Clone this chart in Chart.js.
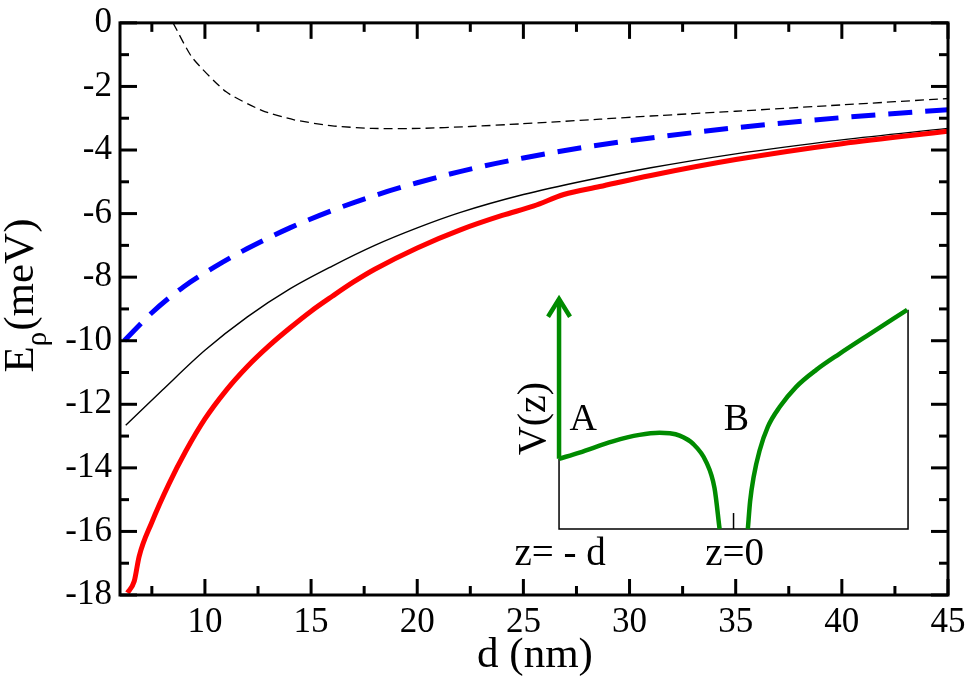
<!DOCTYPE html>
<html>
<head>
<meta charset="utf-8">
<script src="https://cdn.jsdelivr.net/npm/chart.js@4.4.1/dist/chart.umd.min.js"></script>
<style>
html,body{margin:0;padding:0;background:#fff;}
#wrap{position:relative;width:970px;height:677px;}
</style>
</head>
<body>
<div id="wrap"><canvas id="c" width="970" height="677"></canvas></div>
<script>
// ---- tick values ----
const xTicksMajor = [10, 15, 20, 25, 30, 35, 40, 45];
const xTicksMinor = [7.5, 12.5, 17.5, 22.5, 27.5, 32.5, 37.5, 42.5];
const yTicksMajor = [-18, -16, -14, -12, -10, -8, -6, -4, -2, 0];
const yTicksMinor = [-17, -15, -13, -11, -9, -7, -5, -3, -1];

// ---- main series (d in nm, E in meV) ----
const dRed = [6.35, 6.67, 6.9, 7.5, 8.3, 9.1, 10, 11, 12, 13, 14, 15, 16, 17, 18, 20, 22, 24, 25.5, 26.9, 28.6, 31, 35, 40, 45];
const eRed = [-17.93, -17.57, -16.79, -15.71, -14.51, -13.47, -12.46, -11.56, -10.81, -10.17, -9.6, -9.07, -8.6, -8.15, -7.75, -7.08, -6.52, -6.06, -5.76, -5.4, -5.15, -4.8, -4.3, -3.8, -3.41];

const dBlack = [6.27, 8, 10, 12, 14, 16, 18, 20, 22, 25, 28, 31, 35, 40, 45];
const eBlack = [-12.66, -11.55, -10.3, -9.25, -8.37, -7.65, -7.0, -6.45, -5.97, -5.4, -4.95, -4.56, -4.12, -3.68, -3.32];

const dBlue = [6.2, 7.5, 9, 10.5, 12, 14, 16, 18, 20, 22.5, 25, 28, 31, 35, 40, 45];
const eBlue = [-10.0, -9.12, -8.3, -7.66, -7.1, -6.45, -5.9, -5.43, -5.03, -4.6, -4.25, -3.9, -3.62, -3.3, -2.98, -2.73];

const dDash = [8.5, 9.4, 11.0, 12.7, 14.2, 16.0, 17.9, 20.1, 22.5, 24.8, 28.6, 31, 35, 40, 45];
const eDash = [0, -1.09, -2.17, -2.76, -3.05, -3.24, -3.32, -3.32, -3.26, -3.18, -3.03, -2.93, -2.78, -2.58, -2.38];

// ---- inset: potential V(z), z in units of d (z=-d -> -1) ----
const zLeftWall = [-1, -1];
const vLeftWall = [10, 3.05];
const zArrow = [-1.063, -1, -0.937];
const vArrow = [9.23, 10, 9.23];
const zWellA = [-1, -0.883, -0.692, -0.539, -0.424, -0.367, -0.309, -0.233, -0.157, -0.109, -0.08];
const vWellA = [3.05, 3.32, 3.81, 4.09, 4.18, 4.16, 4.06, 3.71, 2.92, 1.77, 0];
const zWellB = [0.082, 0.095, 0.115, 0.149, 0.197, 0.264, 0.359, 0.474, 0.607, 0.76, 0.995];
const vWellB = [0, 1.2, 2.25, 3.4, 4.45, 5.3, 6.18, 6.92, 7.62, 8.38, 9.53];
const zInsetFrame = [-1, -1, 1, 1];
const vInsetFrame = [3.05, 0, 0, 9.53];
const zInsetTick = [0, 0];
const vInsetTick = [0, 0.69];

const pts = (xs, ys) => xs.map((v, i) => ({x: v, y: ys[i]}));

const FONT = "'Liberation Serif', 'Times New Roman', serif";
Chart.defaults.font.family = FONT;
Chart.defaults.color = '#000';

// inset text labels (positions in inset coordinates)
const insetLabels = [
  {text: 'A', z: -0.862, v: 4.29, size: 38, rot: false},
  {text: 'B', z: 0.017, v: 4.29, size: 38, rot: false},
  {text: 'z= - d', z: -0.994, v: -1.59, size: 39, rot: false},
  {text: 'z=0', z: 0.006, v: -1.59, size: 39, rot: false},
  {text: 'V(z)', z: -1.08, v: 4.8, size: 40, rot: true}
];

const decor = {
  id: 'decor',
  afterDatasetsDraw(chart) {
    const {ctx, chartArea: a, scales} = chart;
    const x = scales.x, y = scales.y, x2 = scales.x2, y2 = scales.y2;
    ctx.save();
    ctx.strokeStyle = '#000';
    ctx.lineWidth = 3;
    ctx.lineCap = 'butt';
    const seg = (x1, y1, xb, yb) => { ctx.beginPath(); ctx.moveTo(x1, y1); ctx.lineTo(xb, yb); ctx.stroke(); };
    xTicksMajor.forEach(v => { const p = x.getPixelForValue(v); seg(p, a.bottom, p, a.bottom - 16); seg(p, a.top, p, a.top + 16); });
    xTicksMinor.forEach(v => { const p = x.getPixelForValue(v); seg(p, a.bottom, p, a.bottom - 9); seg(p, a.top, p, a.top + 9); });
    yTicksMajor.forEach(v => { const p = y.getPixelForValue(v); seg(a.left, p, a.left + 17, p); seg(a.right, p, a.right - 17, p); });
    yTicksMinor.forEach(v => { const p = y.getPixelForValue(v); seg(a.left, p, a.left + 9, p); seg(a.right, p, a.right - 9, p); });
    ctx.lineWidth = 3;
    ctx.strokeRect(a.left, a.top, a.right - a.left, a.bottom - a.top);

    // inset labels
    ctx.fillStyle = '#000';
    insetLabels.forEach(l => {
      const px = x2.getPixelForValue(l.z), py = y2.getPixelForValue(l.v);
      ctx.font = l.size + 'px ' + FONT;
      ctx.textAlign = 'center';
      ctx.textBaseline = 'alphabetic';
      if (l.rot) {
        ctx.save();
        ctx.translate(px, py);
        ctx.rotate(-Math.PI / 2);
        ctx.fillText(l.text, 0, 0);
        ctx.restore();
      } else {
        ctx.fillText(l.text, px, py);
      }
    });

    // x axis title
    ctx.font = '43px ' + FONT;
    ctx.textAlign = 'center';
    ctx.textBaseline = 'alphabetic';
    ctx.fillText('d (nm)', (a.left + a.right) / 2 + 1, 667);

    // y axis title with subscript
    ctx.save();
    ctx.translate(33, 296);
    ctx.rotate(-Math.PI / 2);
    ctx.textAlign = 'left';
    const mainF = '43px ' + FONT, subF = '29px ' + FONT;
    ctx.font = mainF; const wE = ctx.measureText('E').width; const wM = ctx.measureText('(meV)').width;
    ctx.font = subF; const wR = ctx.measureText('ρ').width;
    const sx = -(wE + wR + wM) / 2;
    ctx.font = mainF; ctx.fillText('E', sx, 0);
    ctx.font = subF; ctx.fillText('ρ', sx + wE, 13);
    ctx.font = mainF; ctx.fillText('(meV)', sx + wE + wR + 1, 0);
    ctx.restore();

    ctx.restore();
  }
};

const GREEN = '#008b00';
const base = {pointRadius: 0, pointHoverRadius: 0, fill: false};

new Chart(document.getElementById('c'), {
  type: 'line',
  data: {
    datasets: [
      Object.assign({}, base, {data: pts(dRed, eRed), borderColor: '#ff0000', borderWidth: 5, cubicInterpolationMode: 'monotone', xAxisID: 'x', yAxisID: 'y', order: 1}),
      Object.assign({}, base, {data: pts(dBlack, eBlack), borderColor: '#000', borderWidth: 1.4, cubicInterpolationMode: 'monotone', xAxisID: 'x', yAxisID: 'y', order: 2}),
      Object.assign({}, base, {data: pts(dBlue, eBlue), borderColor: '#0000ff', borderWidth: 5, borderDash: [24, 13], cubicInterpolationMode: 'monotone', xAxisID: 'x', yAxisID: 'y', order: 3}),
      Object.assign({}, base, {data: pts(dDash, eDash), borderColor: '#000', borderWidth: 1.3, borderDash: [9, 5], tension: 0.2, xAxisID: 'x', yAxisID: 'y', order: 4}),
      Object.assign({}, base, {data: pts(zInsetFrame, vInsetFrame), borderColor: '#000', borderWidth: 1.5, tension: 0, xAxisID: 'x2', yAxisID: 'y2', order: 6}),
      Object.assign({}, base, {data: pts(zInsetTick, vInsetTick), borderColor: '#000', borderWidth: 1.5, tension: 0, xAxisID: 'x2', yAxisID: 'y2', order: 6}),
      Object.assign({}, base, {data: pts(zLeftWall, vLeftWall), borderColor: GREEN, borderWidth: 4.5, tension: 0, xAxisID: 'x2', yAxisID: 'y2', order: 5}),
      Object.assign({}, base, {data: pts(zArrow, vArrow), borderColor: GREEN, borderWidth: 4.5, tension: 0, xAxisID: 'x2', yAxisID: 'y2', order: 5}),
      Object.assign({}, base, {data: pts(zWellA, vWellA), borderColor: GREEN, borderWidth: 4.5, cubicInterpolationMode: 'monotone', xAxisID: 'x2', yAxisID: 'y2', order: 5}),
      Object.assign({}, base, {data: pts(zWellB, vWellB), borderColor: GREEN, borderWidth: 4.5, cubicInterpolationMode: 'monotone', xAxisID: 'x2', yAxisID: 'y2', order: 5})
    ]
  },
  options: {
    responsive: false,
    animation: false,
    devicePixelRatio: 1,
    layout: {padding: {top: 15, right: 22, left: 0, bottom: 0}},
    plugins: {legend: {display: false}, tooltip: {enabled: false}},
    events: [],
    scales: {
      x: {
        type: 'linear', position: 'bottom', min: 6, max: 45,
        grid: {display: false, drawTicks: false},
        border: {display: false},
        afterBuildTicks: s => { s.ticks = xTicksMajor.map(v => ({value: v})); },
        afterFit: s => { s.height = 82; },
        ticks: {font: {size: 35, lineHeight: 1.593}, padding: 0, maxRotation: 0, autoSkip: false, color: '#000'}
      },
      y: {
        type: 'linear', position: 'left', min: -18, max: 0,
        grid: {display: false, drawTicks: false},
        border: {display: false},
        afterBuildTicks: s => { s.ticks = yTicksMajor.map(v => ({value: v})); },
        afterFit: s => { s.width = 120; },
        ticks: {font: {size: 35, lineHeight: 0.85}, padding: 8, autoSkip: false, color: '#000'}
      },
      x2: {type: 'linear', display: false, min: -3.516, max: 1.229},
      y2: {type: 'linear', display: false, min: -2.876, max: 22.017}
    }
  },
  plugins: [decor]
});
</script>
</body>
</html>
